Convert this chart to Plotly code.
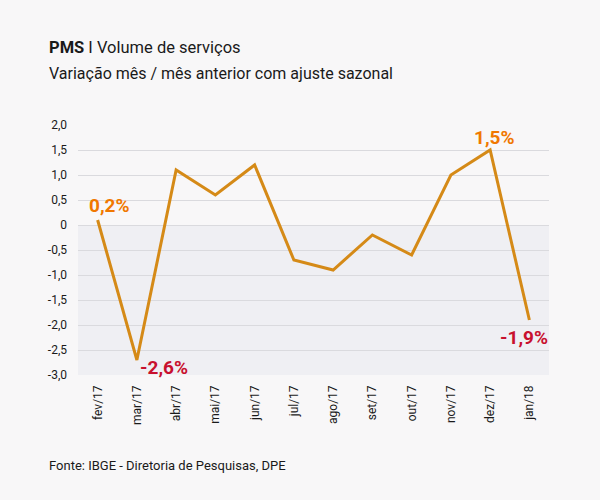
import plotly.graph_objects as go

months = ["fev/17", "mar/17", "abr/17", "mai/17", "jun/17", "jul/17",
          "ago/17", "set/17", "out/17", "nov/17", "dez/17", "jan/18"]
values = [0.1, -2.7, 1.1, 0.6, 1.2, -0.7, -0.9, -0.2, -0.6, 1.0, 1.5, -1.9]

label_months = ["fev/17", "mar/17", "dez/17", "jan/18"]
label_texts = ["0,2%", "-2,6%", "1,5%", "-1,9%"]
label_values = [0.1, -2.7, 1.5, -1.9]
label_shifts = [(12, 15), (27, -7), (4, 13), (-5, -17)]
label_colors = ["#f07800", "#c8102e", "#f07800", "#c8102e"]

tick_vals = [2.0, 1.5, 1.0, 0.5, 0, -0.5, -1.0, -1.5, -2.0, -2.5, -3.0]
tick_text = ["2,0", "1,5", "1,0", "0,5", "0", "-0,5", "-1,0", "-1,5", "-2,0", "-2,5", "-3,0"]

FONT = "Roboto, Liberation Sans, sans-serif"

fig = go.Figure()
fig.add_shape(type="rect", xref="paper", yref="y", x0=0, x1=1, y0=-3.0, y1=0,
              fillcolor="#efeff3", line_width=0, layer="below")
fig.add_trace(go.Scatter(x=months, y=values, mode="lines",
                         line=dict(color="#d58a17", width=3), hoverinfo="skip"))

for m, t, v, (dx, dy), c in zip(label_months, label_texts, label_values, label_shifts, label_colors):
    fig.add_annotation(x=m, y=v, text="<b>" + t + "</b>", showarrow=False,
                       xshift=dx, yshift=dy,
                       font=dict(family=FONT, size=19, color=c))

fig.add_annotation(xref="paper", yref="paper", x=-0.066, y=1.31, xanchor="left", yanchor="middle",
                   text="<b>PMS</b> I Volume de serviços", showarrow=False,
                   font=dict(family=FONT, size=16.5, color="#1a1a1a"))
fig.add_annotation(xref="paper", yref="paper", x=-0.066, y=1.205, xanchor="left", yanchor="middle",
                   text="Variação mês / mês anterior com ajuste sazonal", showarrow=False,
                   font=dict(family=FONT, size=16, color="#1a1a1a"))
fig.add_annotation(xref="paper", yref="paper", x=-0.066, y=-0.364, xanchor="left", yanchor="middle",
                   text="Fonte: IBGE - Diretoria de Pesquisas, DPE", showarrow=False,
                   font=dict(family=FONT, size=13, color="#1a1a1a"))

fig.update_layout(
    width=600, height=500,
    margin=dict(l=78, r=51, t=125, b=125),
    paper_bgcolor="#f8f7f8", plot_bgcolor="rgba(0,0,0,0)",
    showlegend=False,
    font=dict(family=FONT, size=12, color="#1a1a1a"),
    xaxis=dict(type="category", range=[-0.5, 11.5], tickangle=-90, showgrid=False,
               zeroline=False, showline=False, ticks="", ticklen=0,
               ticklabelstandoff=7,
               tickfont=dict(family=FONT, size=12, color="#1a1a1a")),
    yaxis=dict(range=[-3.0, 2.0], tickvals=tick_vals, ticktext=tick_text,
               showgrid=True, gridcolor="#dadade", gridwidth=1, zeroline=True,
               zerolinecolor="#dadade", zerolinewidth=1, showline=False, ticks="",
               ticklabelstandoff=10,
               tickfont=dict(family=FONT, size=12, color="#1a1a1a")),
)

fig.write_html("out.html", config={"displayModeBar": False},
               post_script="document.body.style.margin='0';document.body.style.background='#f8f7f8';")
